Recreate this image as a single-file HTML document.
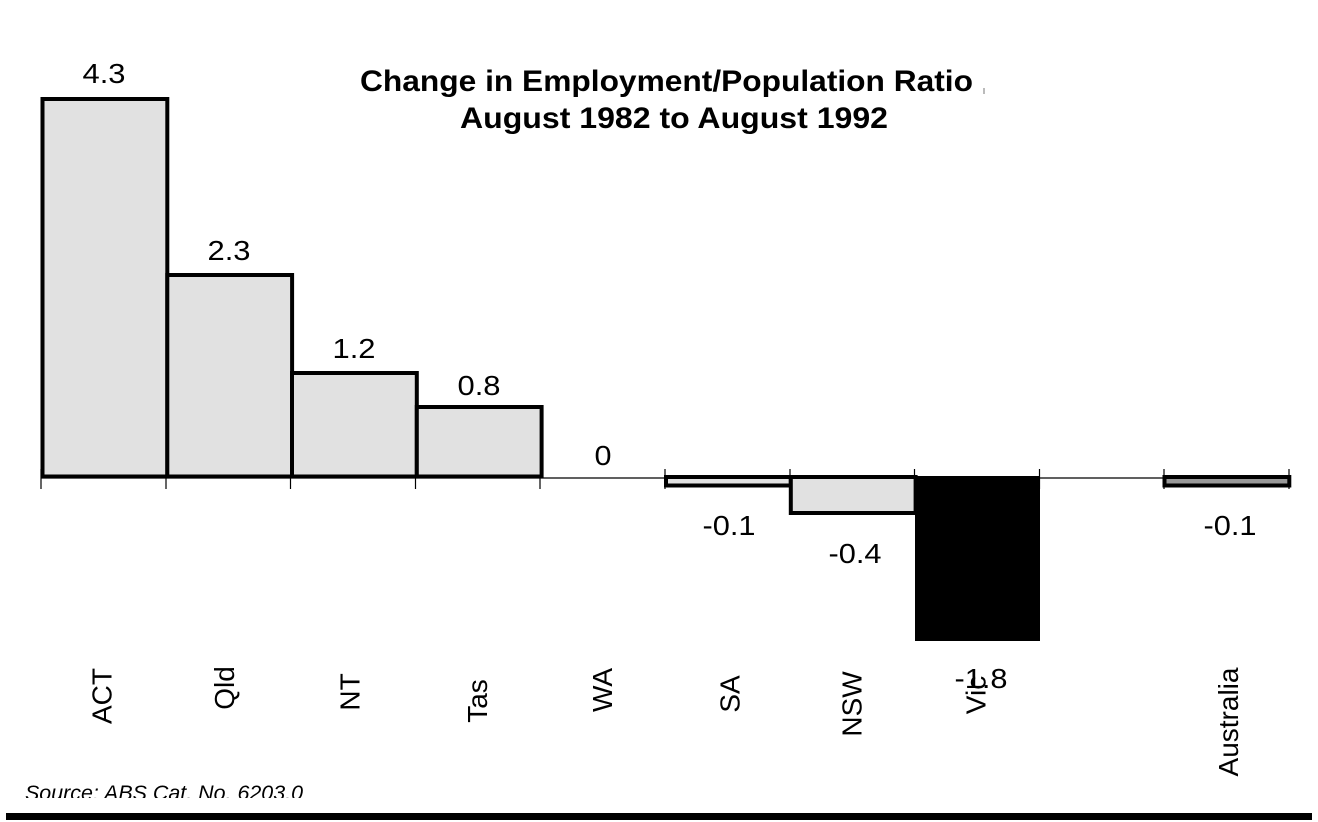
<!DOCTYPE html>
<html>
<head>
<meta charset="utf-8">
<style>
  html, body { margin:0; padding:0; background:#fff; }
  svg { display:block; }
  text { font-family: "Liberation Sans", Arial, sans-serif; fill:#000; }
</style>
</head>
<body>
<svg width="1318" height="822" viewBox="0 0 1318 822" xmlns="http://www.w3.org/2000/svg">
  <rect x="0" y="0" width="1318" height="822" fill="#fff"/>

  <!-- Title -->
  <text x="360" y="91" font-size="30" font-weight="bold" textLength="613" lengthAdjust="spacingAndGlyphs">Change in Employment/Population Ratio</text>
  <text x="460" y="128" font-size="30" font-weight="bold" textLength="428" lengthAdjust="spacingAndGlyphs">August 1982 to August 1992</text>
  <rect x="983" y="88" width="2" height="6" fill="#bbb"/>

  <!-- baseline -->
  <line x1="41" y1="478" x2="1289" y2="478" stroke="#000" stroke-width="1.2"/>

  <!-- ticks -->
  <g stroke="#000" stroke-width="1.2">
    <line x1="41" y1="469" x2="41" y2="489"/>
    <line x1="166" y1="469" x2="166" y2="489"/>
    <line x1="290.5" y1="469" x2="290.5" y2="489"/>
    <line x1="415.5" y1="469" x2="415.5" y2="489"/>
    <line x1="540" y1="469" x2="540" y2="489"/>
    <line x1="665" y1="469" x2="665" y2="489"/>
    <line x1="790" y1="469" x2="790" y2="489"/>
    <line x1="914.5" y1="469" x2="914.5" y2="489"/>
    <line x1="1039.5" y1="469" x2="1039.5" y2="489"/>
    <line x1="1164" y1="469" x2="1164" y2="489"/>
    <line x1="1289" y1="469" x2="1289" y2="489"/>
  </g>

  <!-- bars -->
  <g stroke="#000" stroke-width="4" fill="#e1e1e1">
    <rect x="42.5" y="99" width="124.8" height="377.5"/>
    <rect x="167.3" y="275" width="124.8" height="201.5"/>
    <rect x="292" y="373" width="124.8" height="103.5"/>
    <rect x="416.8" y="407" width="124.8" height="69.5"/>
    <rect x="666" y="477" width="124.8" height="8.5"/>
    <rect x="790.8" y="477" width="124.8" height="36"/>
    <rect x="1164.5" y="477" width="124.8" height="8.5" fill="#999"/>
  </g>
  <rect x="915" y="476" width="125" height="165" fill="#000"/>

  <!-- value labels -->
  <g font-size="28" text-anchor="middle">
    <text x="104" y="83" textLength="43" lengthAdjust="spacingAndGlyphs">4.3</text>
    <text x="229" y="260" textLength="43" lengthAdjust="spacingAndGlyphs">2.3</text>
    <text x="354" y="358" textLength="43" lengthAdjust="spacingAndGlyphs">1.2</text>
    <text x="479" y="395" textLength="43" lengthAdjust="spacingAndGlyphs">0.8</text>
    <text x="603" y="465" textLength="17" lengthAdjust="spacingAndGlyphs">0</text>
    <text x="729" y="535" textLength="53" lengthAdjust="spacingAndGlyphs">-0.1</text>
    <text x="855" y="563" textLength="53" lengthAdjust="spacingAndGlyphs">-0.4</text>
    <text x="981" y="688" textLength="53" lengthAdjust="spacingAndGlyphs">-1.8</text>
    <text x="1230" y="535" textLength="53" lengthAdjust="spacingAndGlyphs">-0.1</text>
  </g>

  <!-- category labels (rotated) -->
  <g font-size="28" text-anchor="middle">
    <text transform="translate(111.5,696) rotate(-90)">ACT</text>
    <text transform="translate(234,688) rotate(-90)">Qld</text>
    <text transform="translate(359.5,692) rotate(-90)">NT</text>
    <text transform="translate(487,701) rotate(-90)">Tas</text>
    <text transform="translate(612,690) rotate(-90)">WA</text>
    <text transform="translate(739.5,694) rotate(-90)">SA</text>
    <text transform="translate(861.5,704) rotate(-90)">NSW</text>
    <text transform="translate(985.5,695) rotate(-90)">Vic</text>
    <text transform="translate(1238,722) rotate(-90)">Australia</text>
  </g>

  <!-- source (clipped) -->
  <defs>
    <clipPath id="srcclip"><rect x="0" y="760" width="400" height="38"/></clipPath>
  </defs>
  <text x="25" y="800" font-size="21" font-style="italic" clip-path="url(#srcclip)" textLength="278" lengthAdjust="spacingAndGlyphs">Source: ABS Cat. No. 6203.0</text>

  <!-- bottom rule -->
  <rect x="6" y="813" width="1306" height="7" fill="#000"/>
</svg>
</body>
</html>
